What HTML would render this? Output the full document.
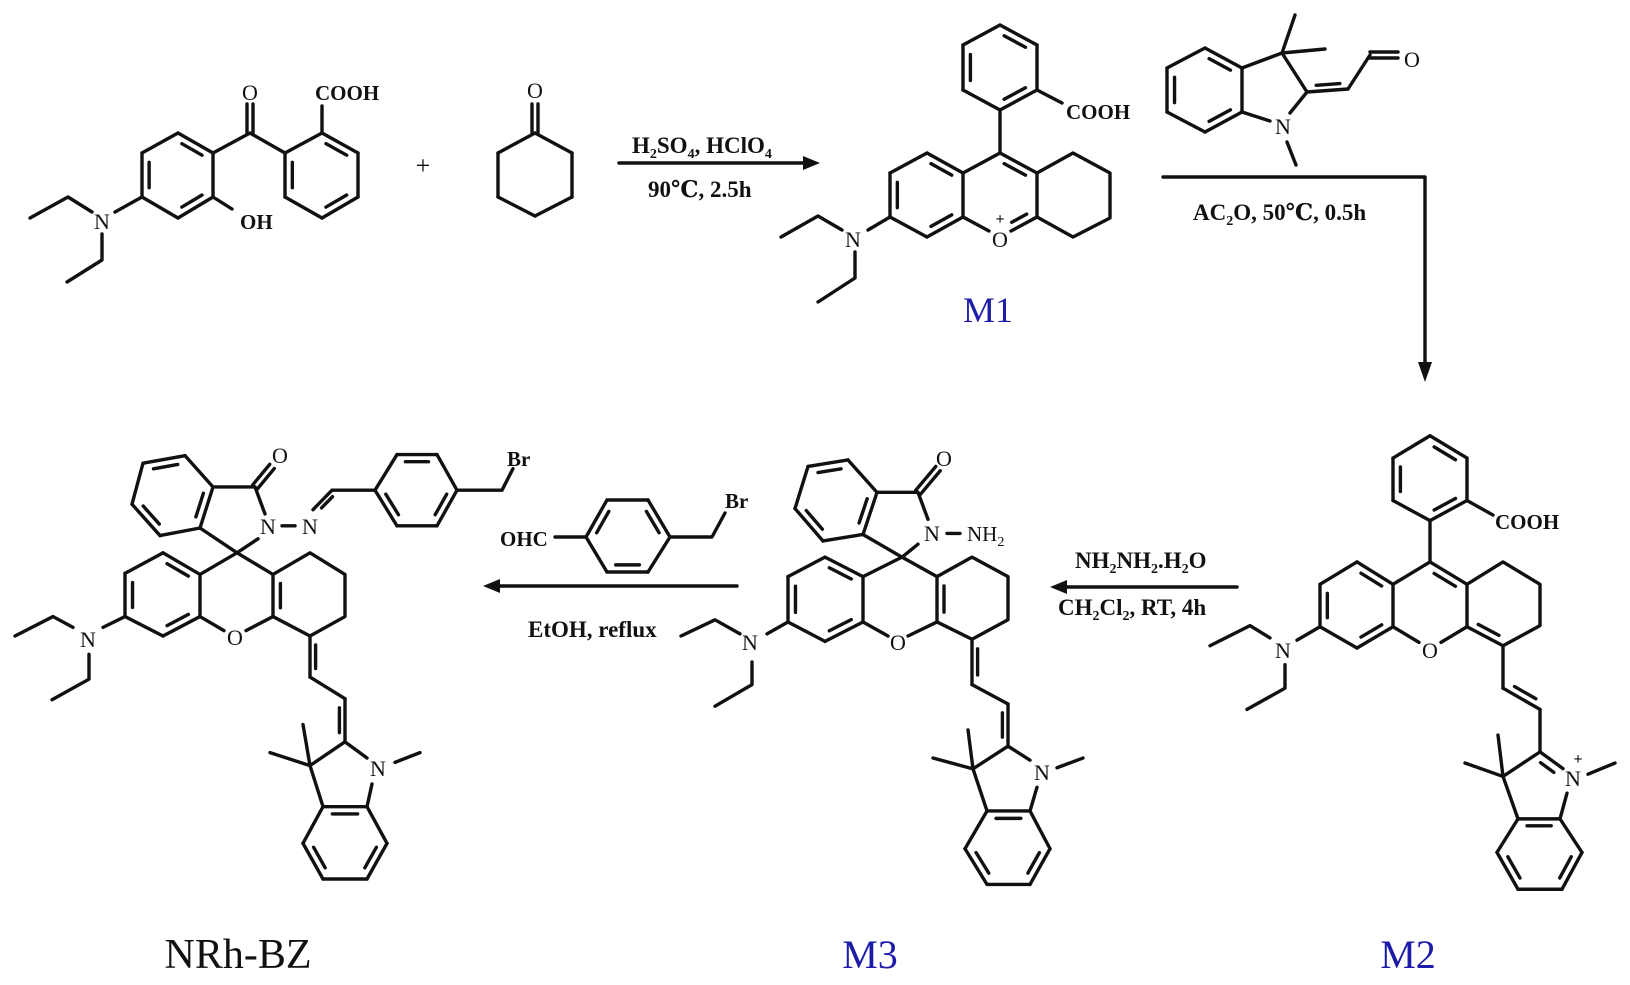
<!DOCTYPE html>
<html><head><meta charset="utf-8"><style>
html,body{margin:0;padding:0;background:#fff}
svg{display:block}
text{font-family:"Liberation Serif","DejaVu Serif",serif;fill:#111}
.a{font-size:22px;text-anchor:middle}
.b{font-size:21px;font-weight:bold}
.r{font-size:23px;font-weight:bold}
.lbl{fill:#1c1ca8;text-anchor:middle}
</style></head><body>
<svg id="s" width="1630" height="985" viewBox="0 0 1630 985" xmlns="http://www.w3.org/2000/svg">
<g id="bonds" stroke="#111" stroke-width="3.4" fill="none" stroke-linecap="round" stroke-linejoin="round"></g>
<g fill="#111">
<polygon points="820,163 803,156 803,170"/>
<polygon points="1425,382 1418,362 1432,362"/>
<polygon points="483,586 500,579 500,593"/>
<polygon points="1050,587 1067,580 1067,594"/>
</g>
<!-- Mol 1 -->
<text class="a" x="250" y="100">O</text>
<text class="b" x="315" y="100">COOH</text>
<text class="b" x="240" y="229">OH</text>
<text class="a" x="102" y="229">N</text>
<text x="423" y="174" style="font-size:26px;text-anchor:middle">+</text>
<text class="a" x="535" y="98">O</text>
<text class="r" x="632" y="153">H<tspan font-size="14" dy="5">2</tspan><tspan dy="-5">SO</tspan><tspan font-size="14" dy="5">4</tspan><tspan dy="-5">, HClO</tspan><tspan font-size="14" dy="5">4</tspan></text>
<text class="r" x="648" y="197">90℃, 2.5h</text>
<!-- M1 -->
<text class="b" x="1066" y="119">COOH</text>
<text class="a" x="1000" y="247">O</text>
<text x="1000" y="224" style="font-size:16px;font-weight:bold;text-anchor:middle">+</text>
<text class="a" x="853" y="247">N</text>
<text class="lbl" x="988" y="322" style="font-size:36px">M1</text>
<!-- indoline reagent -->
<text class="a" x="1412" y="67">O</text>
<text class="a" x="1283" y="134">N</text>
<text class="r" x="1193" y="220">AC<tspan font-size="14" dy="5">2</tspan><tspan dy="-5">O, 50℃, 0.5h</tspan></text>
<!-- M2 -->
<text class="b" x="1495" y="529">COOH</text>
<text class="a" x="1430" y="658">O</text>
<text class="a" x="1283" y="658">N</text>
<text class="a" x="1573" y="786">N</text>
<text x="1578" y="764" style="font-size:16px;font-weight:bold;text-anchor:middle">+</text>
<text class="lbl" x="1408" y="968" style="font-size:40px">M2</text>
<!-- middle reagent -->
<text class="b" x="500" y="546">OHC</text>
<text class="b" x="725" y="508">Br</text>
<text class="r" x="528" y="637">EtOH, reflux</text>
<!-- M3 -->
<text class="a" x="944" y="466">O</text>
<text class="a" x="932" y="541">N</text>
<text x="967" y="541" style="font-size:21px">NH<tspan font-size="14" dy="5">2</tspan></text>
<text class="a" x="898" y="650">O</text>
<text class="a" x="750" y="650">N</text>
<text class="a" x="1042" y="780">N</text>
<text class="r" x="1075" y="568">NH<tspan font-size="14" dy="5">2</tspan><tspan dy="-5">NH</tspan><tspan font-size="14" dy="5">2</tspan><tspan dy="-5">.H</tspan><tspan font-size="14" dy="5">2</tspan><tspan dy="-5">O</tspan></text>
<text class="r" x="1058" y="615">CH<tspan font-size="14" dy="5">2</tspan><tspan dy="-5">Cl</tspan><tspan font-size="14" dy="5">2</tspan><tspan dy="-5">, RT, 4h</tspan></text>
<text class="lbl" x="870" y="968" style="font-size:40px">M3</text>
<!-- NRh-BZ -->
<text class="a" x="280" y="463">O</text>
<text class="a" x="268" y="534">N</text>
<text class="a" x="310" y="534">N</text>
<text class="b" x="507" y="466">Br</text>
<text class="a" x="235" y="645">O</text>
<text class="a" x="88" y="647">N</text>
<text class="a" x="378" y="776">N</text>
<text x="238" y="968" style="font-size:42px;text-anchor:middle">NRh-BZ</text>
</svg>
<script>
var g=document.getElementById('bonds'),NS='http://www.w3.org/2000/svg',T=null;
function ty(y){return T?T[0]+(y-T[0])*T[1]:y;}
function L(){var a=arguments,p=[];for(var i=0;i<a.length;i+=2)p.push(a[i]+','+ty(a[i+1]));var e=document.createElementNS(NS,'polyline');e.setAttribute('points',p.join(' '));g.appendChild(e);}
function inner(p,q,c){var f=0.2,s=0.14;var a=[p[0]+(c[0]-p[0])*f,p[1]+(c[1]-p[1])*f],b=[q[0]+(c[0]-q[0])*f,q[1]+(c[1]-q[1])*f];var dx=b[0]-a[0],dy=b[1]-a[1];L(a[0]+dx*s,a[1]+dy*s,b[0]-dx*s,b[1]-dy*s);}
function R(pts,d){var c=[0,0];pts.forEach(function(p){c[0]+=p[0]/pts.length;c[1]+=p[1]/pts.length});for(var i=0;i<pts.length;i++){var p=pts[i],q=pts[(i+1)%pts.length];L(p[0],p[1],q[0],q[1]);if(d.indexOf(i)>=0)inner(p,q,c);}}
function D(x1,y1,x2,y2,cx,cy){L(x1,y1,x2,y2);inner([x1,y1],[x2,y2],[cx,cy]);}
function P(x1,y1,x2,y2,o){var dx=x2-x1,dy=y2-y1,l=Math.hypot(dx,dy),nx=-dy/l*o/2,ny=dx/l*o/2;L(x1+nx,y1+ny,x2+nx,y2+ny);L(x1-nx,y1-ny,x2-nx,y2-ny);}
// Mol1
R([[178,133],[213,153],[213,197],[178,218],[142,197],[142,153]],[0,2,4]);
R([[285,153],[322,133],[358,153],[358,197],[322,218],[285,197]],[1,3,5]);
L(213,153,250,133,285,153);P(250,133,250,104,6);
L(322,133,322,106);L(213,197,232,209);L(142,197,115,212);
L(92,212,68,197,30,218);L(102,234,102,260,67,282);
R([[535,133],[572,153],[572,197],[535,216],[498,197],[498,153]],[]);P(535,133,535,104,6);
L(619,163,806,163);
// M1
R([[1000,25],[1037,45],[1037,90],[1000,110],[963,90],[963,45]],[0,2,4]);
L(1037,90,1062,103);L(1000,110,1000,153);
R([[963,173],[927,153],[890,173],[890,217],[927,237],[963,217]],[0,2,4]);
L(1000,153,963,173);D(1000,153,1037,173,1000,195);L(963,217,989,231);L(1011,231,1037,217);inner([1011,231],[1037,217],[1000,195]);
L(1037,173,1037,217);
L(1037,173,1073,153,1110,173,1110,218,1073,237,1037,217);
L(890,217,868,230);L(842,230,818,216,781,237);L(855,252,855,278,818,302);
// indoline reagent
R([[1205,48],[1242,68],[1242,112],[1205,132],[1167,112],[1167,68]],[0,2,4]);
L(1242,68,1282,53);L(1282,53,1295,15);L(1282,53,1325,49);L(1282,53,1307,92);
L(1242,112,1270,121);L(1290,113,1307,92);L(1307,92,1348,89);inner([1307,92],[1348,89],[1330,60]);
L(1348,89,1370,55);P(1370,55,1398,55,6);L(1287,142,1296,165);
L(1163,177,1425,177,1425,366);
// middle reagent
R([[607,500],[648,500],[670,537],[648,572],[607,572],[586,537]],[1,3,5]);
L(586,537,555,537);L(670,537,712,537,725,513);
L(737,586,497,586);
L(1237,587,1064,587);
// M2
T=[400,1.117];
R([[1430,432],[1467,452],[1467,490],[1430,508],[1393,490],[1393,452]],[0,2,4]);
L(1467,490,1493,503);L(1430,508,1430,545);
R([[1393,565],[1357,545],[1320,565],[1320,603],[1357,622],[1393,603]],[0,2,4]);
L(1430,545,1393,565);D(1430,545,1467,565,1430,585);L(1393,603,1419,617);L(1441,617,1467,603);L(1467,565,1467,603);
L(1467,565,1503,545,1540,565,1540,602,1503,620);D(1467,603,1503,620,1503,583);
L(1503,620,1503,658);L(1503,658,1540,677);inner([1503,658],[1540,677],[1540,640]);L(1540,677,1540,715);
L(1540,715,1503,737);L(1540,715,1563,730);inner([1540,715],[1563,730],[1530,755]);
L(1503,737,1498,700);L(1503,737,1465,725);L(1503,737,1518,775);L(1567,752,1560,775);L(1588,735,1615,725);
R([[1518,775],[1560,775],[1582,805],[1562,838],[1518,838],[1497,805]],[0,2,4]);
L(1320,603,1297,615);L(1270,613,1250,602,1210,620);L(1285,637,1285,658,1247,677);
// M3
T=[420,1.08];
R([[848,457],[877,487],[863,526],[823,532],[795,502],[808,463]],[1,3,5]);
L(877,487,918,487);P(918,487,938,465,6);L(918,487,928,512);L(918,535,902,547);L(863,526,902,547);
L(947,525,960,525);
R([[863,565],[825,547],[788,565],[788,607],[825,625],[863,607]],[0,2,4]);
L(902,547,863,565);L(902,547,937,565);L(863,607,888,620);L(908,620,937,607);
L(937,565,972,547,1008,565,1008,605,972,623,937,607);D(937,607,937,565,972,585);
L(972,623,972,665);inner([972,623],[972,665],[1000,644]);L(972,665,1008,683);L(1008,683,1008,722);inner([1008,683],[1008,722],[980,702]);
L(1008,722,1030,735);L(1008,722,973,743);L(973,743,968,707);L(973,743,933,733);L(973,743,987,782);L(1037,760,1030,782);L(1057,742,1083,733);
R([[987,782],[1030,782],[1050,817],[1030,850],[987,850],[965,817]],[0,2,4]);
L(788,607,767,618);L(740,618,715,605,681,620);L(752,644,752,665,715,685);
// NRh-BZ
R([[185,453],[213,482],[200,520],[160,527],[132,498],[143,460]],[1,3,5]);
L(213,482,255,482);P(255,482,272,463,6);L(255,482,265,507);L(258,530,237,543);L(200,520,237,543);
L(282,518,295,518);L(313,503,332,485);inner([313,503],[332,485],[345,505]);L(332,485,375,485);
R([[375,485],[397,452],[437,452],[457,485],[437,518],[397,518]],[1,3,5]);
L(457,485,502,485,513,465);
R([[200,563],[163,543],[125,562],[125,602],[163,620],[200,602]],[0,2,4]);
L(237,543,200,563);L(237,543,273,563);L(200,602,224,615);L(246,615,273,602);
L(273,563,310,543,345,563,345,602,310,620,273,602);D(273,602,273,563,310,583);
L(310,620,310,658);inner([310,620],[310,658],[338,640]);L(310,658,345,678);L(345,678,345,718);inner([345,678],[345,718],[317,698]);
L(345,718,367,733);L(345,718,310,740);L(310,740,303,702);L(310,740,270,728);L(310,740,323,778);L(372,757,367,778);L(395,737,420,728);
R([[323,778],[367,778],[387,812],[367,845],[323,845],[303,812]],[0,2,4]);
L(125,602,103,612);L(73,612,53,602,15,620);L(89,637,89,660,52,679);
T=null;
</script>
</body></html>
